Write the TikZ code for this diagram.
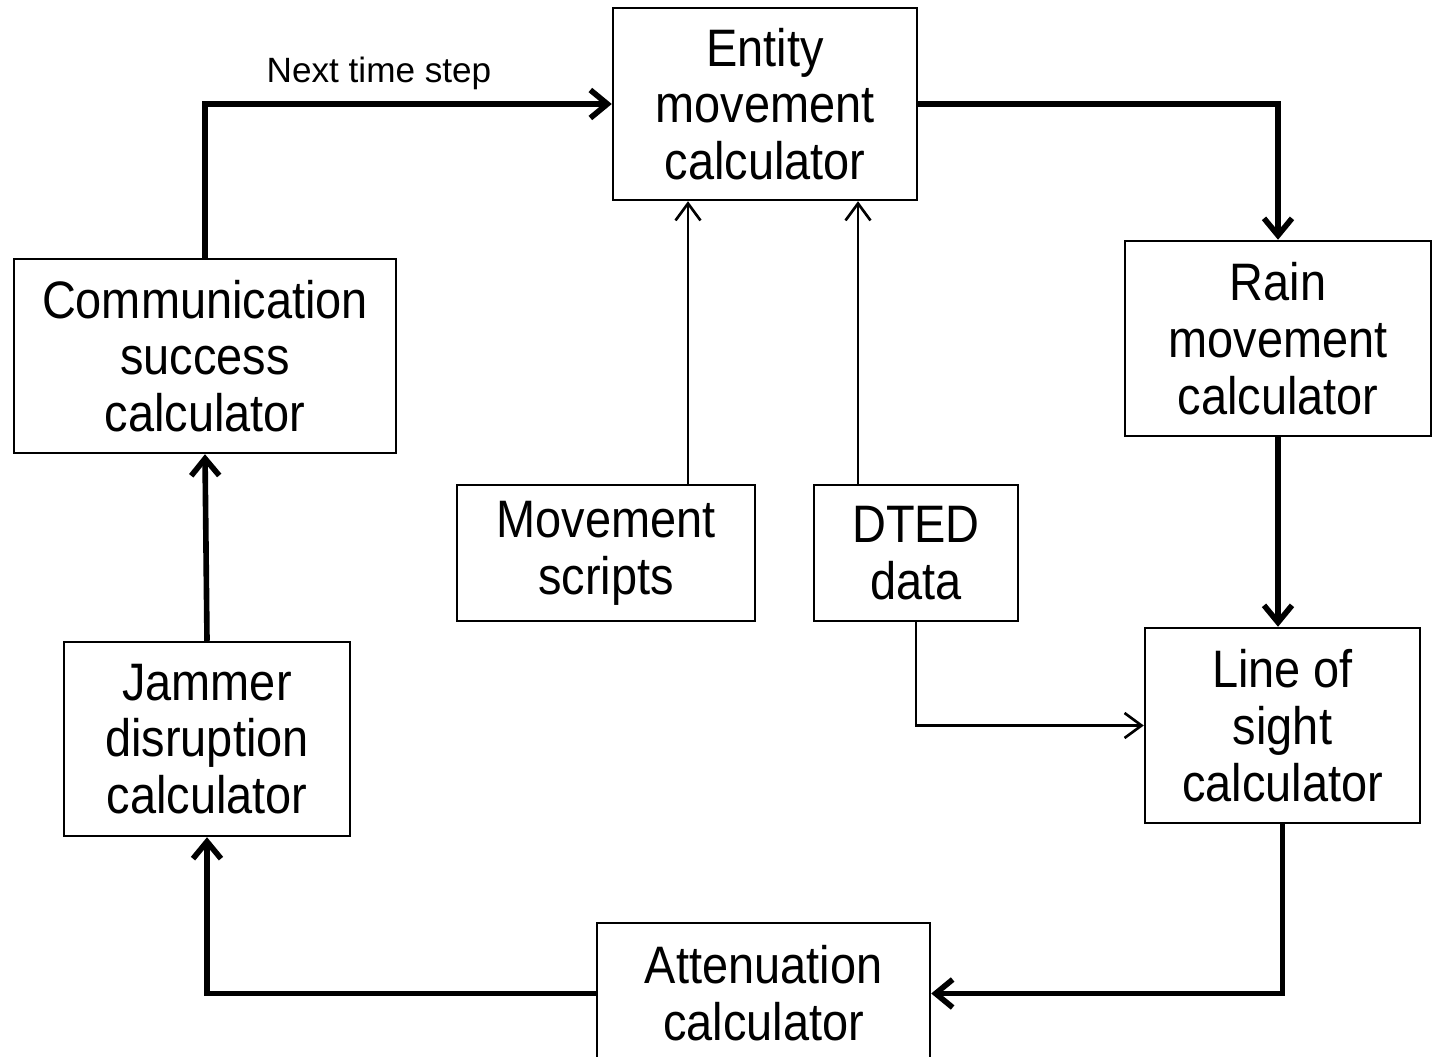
\documentclass[tikz,border=0pt]{standalone}
\usepackage{fontspec}
\setmainfont{Liberation Sans}
\newfontfamily\boxfont{Liberation Sans}[FakeStretch=0.89]
\usetikzlibrary{arrows.meta, positioning}

\begin{document}
\begin{tikzpicture}[
        box/.style={
            draw=black,
            line width=1.4pt,
            align=center,
            inner sep=0pt,
            font=\boxfont\fontsize{30}{32.3}\selectfont
          },
        flow/.style={-{Straight Barb[length=0.34cm, width=0.56cm]}, line width=3.2pt},
        feed/.style={-{Straight Barb[length=0.34cm, width=0.50cm]}, line width=1.5pt}
      ]
      \useasboundingbox (0,0) rectangle (28.64,21.12);

      \node[box, minimum width=6.08cm, minimum height=3.84cm] (entity) at (15.30,19.04) {Entity\\movement\\calculator};
      \node[box, minimum width=7.64cm, minimum height=3.88cm] (comm) at (4.10,14.00) {Communication\\success\\calculator};
      \node[box, minimum width=6.12cm, minimum height=3.90cm] (rain) at (25.56,14.35) {Rain\\movement\\calculator};
      \node[box, minimum width=5.96cm, minimum height=2.72cm] (mov) at (12.12,10.06) {Movement\\scripts};
      \node[box, minimum width=4.08cm, minimum height=2.72cm] (dted) at (18.32,10.06) {DTED\\data};
      \node[box, minimum width=5.50cm, minimum height=3.90cm] (los) at (25.65,6.61) {Line of\\sight\\calculator};
      \node[box, minimum width=5.72cm, minimum height=3.88cm] (jam) at (4.14,6.34) {Jammer\\disruption\\calculator};
      \node[box, minimum width=6.66cm, minimum height=2.82cm] (att) at (15.27,1.25) {Attenuation\\calculator};

      \node[font=\fontsize{20}{24}\selectfont] (nextstep) at (7.58,19.66) {Next time step};

      \draw[flow] (comm.north) |- (entity.west);
      \draw[flow] (entity.east) -| (rain.north);
      \draw[flow] (rain.south) -- (rain.south |- los.north);
      \draw[flow] (los.south) |- (att.east);
      \draw[flow] (att.west) -| (jam.south);
      \draw[flow] (jam.north) -- (comm.south);

      \draw[feed] ([xshift=1.64cm]mov.north) -- ([xshift=1.64cm]mov.north |- entity.south);
      \draw[feed] ([xshift=-1.16cm]dted.north) -- ([xshift=-1.16cm]dted.north |- entity.south);
      \draw[feed] (dted.south) |- (los.west);
    \end{tikzpicture}
\end{document}
